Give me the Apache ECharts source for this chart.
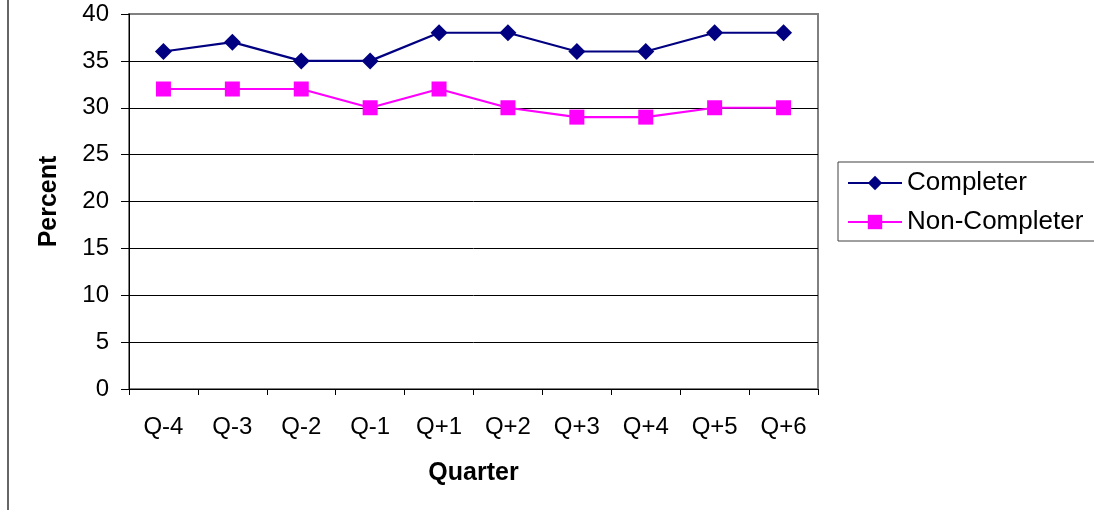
<!DOCTYPE html>
<html>
<head>
<meta charset="utf-8">
<script src="https://cdn.jsdelivr.net/npm/echarts@6/dist/echarts.min.js"></script>
<style>
  html, body { margin: 0; padding: 0; background: #fff; }
  #chart { width: 1094px; height: 515px; }
</style>
</head>
<body>
<div id="chart"></div>
<script>
var quarters = ['Q-4', 'Q-3', 'Q-2', 'Q-1', 'Q+1', 'Q+2', 'Q+3', 'Q+4', 'Q+5', 'Q+6'];
var completer = [36, 37, 35, 35, 38, 38, 36, 36, 38, 38];
var nonCompleter = [32, 32, 32, 30, 32, 30, 29, 29, 30, 30];

var font = 'Liberation Sans, Arial, sans-serif';
var chart = echarts.init(document.getElementById('chart'));

chart.setOption({
  animation: false,
  textStyle: { fontFamily: font },
  graphic: [
    {
      type: 'line',
      shape: { x1: 8, y1: 0, x2: 8, y2: 510 },
      style: { stroke: '#333', lineWidth: 1.5 }
    }
  ],
  grid: {
    left: 129, top: 14, right: 276, bottom: 126,
    show: true, borderColor: '#808080', borderWidth: 2
  },
  legend: {
    orient: 'vertical',
    left: 838, top: 162,
    width: 300,
    padding: [8, 60, 6, 9],
    borderColor: '#404040', borderWidth: 1,
    itemWidth: 54, itemHeight: 18, itemGap: 13,
    textStyle: { fontSize: 26, color: '#000', fontFamily: font },
    data: ['Completer', 'Non-Completer']
  },
  xAxis: {
    type: 'category',
    data: quarters,
    boundaryGap: true,
    name: 'Quarter',
    nameLocation: 'middle',
    nameGap: 72,
    nameTextStyle: { fontSize: 25, fontWeight: 'bold', color: '#000' },
    axisLine: { lineStyle: { color: '#000', width: 1 } },
    axisTick: { show: true, length: 6, interval: 0, lineStyle: { color: '#000' } },
    axisLabel: { fontSize: 24, color: '#000', margin: 26, interval: 0 },
    splitLine: { show: false }
  },
  yAxis: {
    type: 'value',
    min: 0, max: 40, interval: 5,
    name: 'Percent',
    nameLocation: 'middle',
    nameRotate: 90,
    nameGap: 67,
    nameTextStyle: { fontSize: 25, fontWeight: 'bold', color: '#000' },
    axisLine: { show: true, lineStyle: { color: '#000', width: 1 } },
    axisTick: { show: true, length: 8, lineStyle: { color: '#000' } },
    axisLabel: { fontSize: 24, color: '#000', margin: 20 },
    splitLine: { show: true, showMaxLine: false, lineStyle: { color: '#000', width: 1 } }
  },
  series: [
    {
      name: 'Completer',
      type: 'line',
      data: completer,
      symbol: 'diamond',
      symbolSize: 17,
      lineStyle: { color: '#000080', width: 2.2 },
      itemStyle: { color: '#000080' }
    },
    {
      name: 'Non-Completer',
      type: 'line',
      data: nonCompleter,
      symbol: 'rect',
      symbolSize: 15,
      lineStyle: { color: '#FF00FF', width: 2.2 },
      itemStyle: { color: '#FF00FF' }
    }
  ]
});
</script>
</body>
</html>
